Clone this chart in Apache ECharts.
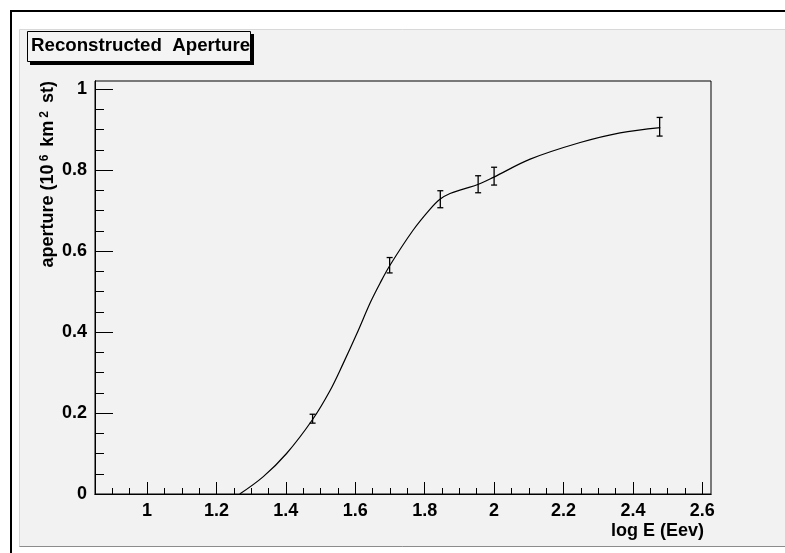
<!DOCTYPE html>
<html>
<head>
<meta charset="utf-8">
<script src="https://cdn.jsdelivr.net/npm/echarts@6/dist/echarts.min.js"></script>
<style>
html,body{margin:0;padding:0;background:#fff;}
#c{width:785px;height:553px;}
</style>
</head>
<body>
<div id="c"></div>
<script>
// ---- data ----
const pointX = [1.477, 1.699, 1.845, 1.954, 2.0, 2.477];
const pointY = [0.186, 0.565, 0.728, 0.765, 0.785, 0.907];
const pointErr = [0.011, 0.019, 0.021, 0.021, 0.022, 0.023];

const curveX = [1.267, 1.335, 1.402, 1.477, 1.527, 1.565, 1.604, 1.644, 1.671, 1.700, 1.767, 1.815, 1.844, 1.873, 1.911, 1.955, 1.998, 2.104, 2.248, 2.363, 2.479];
const curveY = [0.000, 0.043, 0.100, 0.184, 0.255, 0.322, 0.395, 0.474, 0.520, 0.565, 0.652, 0.703, 0.728, 0.742, 0.753, 0.765, 0.782, 0.827, 0.868, 0.892, 0.905];

const xMajorTicks = [1.0, 1.2, 1.4, 1.6, 1.8, 2.0, 2.2, 2.4, 2.6];
const xMinorTicks = [0.9, 0.95, 1.05, 1.1, 1.15, 1.25, 1.3, 1.35, 1.45, 1.5, 1.55, 1.65, 1.7, 1.75, 1.85, 1.9, 1.95, 2.05, 2.1, 2.15, 2.25, 2.3, 2.35, 2.45, 2.5, 2.55];
const yMajorTicks = [0, 0.2, 0.4, 0.6, 0.8, 1.0];
const yMinorTicks = [0.05, 0.1, 0.15, 0.25, 0.3, 0.35, 0.45, 0.5, 0.55, 0.65, 0.7, 0.75, 0.85, 0.9, 0.95];

const titleText = 'Reconstructed  Aperture';
const xTitle = 'log E (Eev)';
const yTitle = 'aperture (10{s|6} km{s|2} st)';

const X_MIN = 0.85, X_MAX = 2.625, Y_MIN = 0, Y_MAX = 1.02;

// ---- build ----
const FONT = 'Liberation Sans, Arial, Helvetica, sans-serif';
const curveData = curveX.map((x, i) => [x, curveY[i]]);
const errData = pointX.map((x, i) => [x, pointY[i], pointErr[i]]);

const chart = echarts.init(document.getElementById('c'), null, {renderer: 'canvas'});

function xAxisBase(extra) {
  return Object.assign({
    type: 'value', gridIndex: 0, position: 'bottom', min: X_MIN, max: X_MAX,
    splitLine: {show: false},
    axisLine: {show: true, onZero: false, lineStyle: {color: '#000', width: 1}}
  }, extra);
}
function yAxisBase(extra) {
  return Object.assign({
    type: 'value', gridIndex: 0, position: 'left', min: Y_MIN, max: Y_MAX,
    splitLine: {show: false},
    axisLine: {show: true, onZero: false, lineStyle: {color: '#000', width: 1}}
  }, extra);
}

const option = {
  backgroundColor: '#ffffff',
  animation: false,
  graphic: [
    {type: 'rect', z: -10, shape: {x: 10, y: 10, width: 775, height: 2}, style: {fill: '#000'}},
    {type: 'rect', z: -10, shape: {x: 10, y: 10, width: 2, height: 543}, style: {fill: '#000'}},
    {type: 'rect', z: -10, shape: {x: 19.5, y: 29.5, width: 770, height: 517}, style: {fill: '#f2f2f2', stroke: '#d8d8d8', lineWidth: 1}},
    {type: 'line', z: -9, shape: {x1: 19.5, y1: 546.5, x2: 785, y2: 546.5}, style: {stroke: '#8c8c8c', lineWidth: 1}},
    {type: 'rect', z: 10, shape: {x: 30, y: 34, width: 224, height: 31}, style: {fill: '#000'}},
    {type: 'rect', z: 11, shape: {x: 27.5, y: 31.5, width: 223, height: 30}, style: {fill: '#f4f4f4', stroke: '#000', lineWidth: 1}},
    {type: 'text', z: 12, x: 31, y: 46, style: {text: titleText, font: 'bold 18.7px ' + FONT, fill: '#000', align: 'left', verticalAlign: 'middle'}},
    {type: 'text', z: 12, x: 704, y: 531, style: {text: xTitle, font: 'bold 18px ' + FONT, fill: '#000', align: 'right', verticalAlign: 'middle'}},
    {type: 'text', z: 12, x: 48, y: 81, rotation: Math.PI / 2,
     style: {text: yTitle, fontFamily: FONT, fontWeight: 'bold', fontSize: 18, fill: '#000', align: 'right', verticalAlign: 'middle',
             rich: {s: {fontFamily: FONT, fontWeight: 'bold', fontSize: 12, fill: '#000', verticalAlign: 'top', padding: [0, 3, 0, 3]}}}}
  ],
  grid: {left: 95, top: 81, width: 616, height: 413, show: true, borderColor: '#000', borderWidth: 1, backgroundColor: 'transparent', containLabel: false},
  xAxis: [
    xAxisBase({
      axisTick: {show: true, inside: true, length: 12, customValues: xMajorTicks, lineStyle: {color: '#000', width: 1}},
      axisLabel: {show: true, customValues: xMajorTicks, margin: 8, color: '#000', fontFamily: FONT, fontWeight: 'bold', fontSize: 18,
                  formatter: v => String(Math.round(v * 10) / 10)}
    }),
    xAxisBase({
      axisTick: {show: true, inside: true, length: 6, customValues: xMinorTicks, lineStyle: {color: '#000', width: 1}},
      axisLabel: {show: false}
    })
  ],
  yAxis: [
    yAxisBase({
      axisTick: {show: true, inside: true, length: 18, customValues: yMajorTicks, lineStyle: {color: '#000', width: 1}},
      axisLabel: {show: true, customValues: yMajorTicks, margin: 8, color: '#000', fontFamily: FONT, fontWeight: 'bold', fontSize: 18,
                  formatter: v => String(Math.round(v * 10) / 10)}
    }),
    yAxisBase({
      axisTick: {show: true, inside: true, length: 9, customValues: yMinorTicks, lineStyle: {color: '#000', width: 1}},
      axisLabel: {show: false}
    })
  ],
  series: [
    {
      type: 'line', name: 'fit', xAxisIndex: 0, yAxisIndex: 0, data: curveData,
      smooth: 0.35, symbol: 'none', clip: true,
      lineStyle: {color: '#000', width: 1.2}
    },
    {
      type: 'custom', name: 'points', xAxisIndex: 0, yAxisIndex: 0, data: errData,
      encode: {x: 0, y: 1},
      renderItem: function (params, api) {
        const x = api.value(0), y = api.value(1), e = api.value(2);
        const top = api.coord([x, y + e]);
        const bot = api.coord([x, y - e]);
        const cap = 3;
        const st = {stroke: '#000', lineWidth: 1.3};
        return {
          type: 'group',
          children: [
            {type: 'line', shape: {x1: top[0], y1: top[1], x2: bot[0], y2: bot[1]}, style: st},
            {type: 'line', shape: {x1: top[0] - cap, y1: top[1], x2: top[0] + cap, y2: top[1]}, style: st},
            {type: 'line', shape: {x1: bot[0] - cap, y1: bot[1], x2: bot[0] + cap, y2: bot[1]}, style: st}
          ]
        };
      }
    }
  ]
};
chart.setOption(option);
</script>
</body>
</html>
